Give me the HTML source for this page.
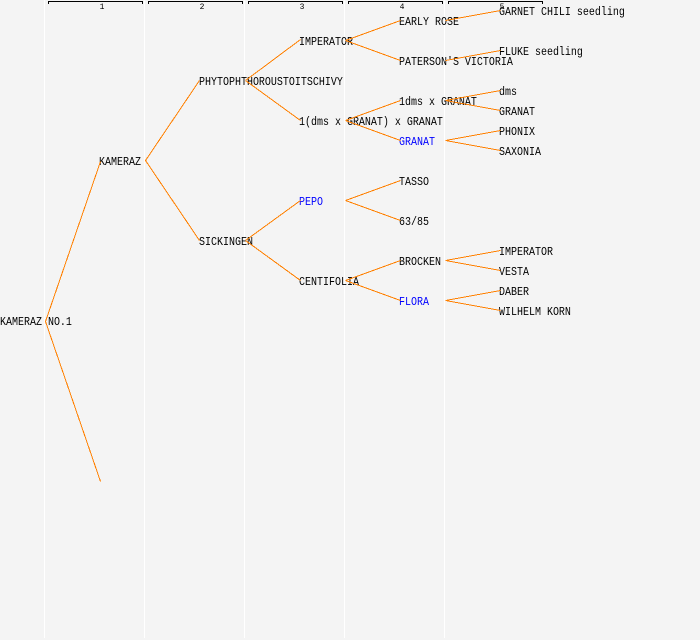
<!DOCTYPE html>
<html><head><meta charset="utf-8"><style>
html,body{margin:0;padding:0;background:#f4f4f4;width:700px;height:640px;overflow:hidden}
svg{display:block}
text{font-family:"Liberation Mono","DejaVu Sans Mono",monospace;font-size:10px;fill:#000;white-space:pre}
.b{fill:#00f}
.n{font-size:8px;text-anchor:middle}
.o line{stroke:#ff8000;stroke-width:1;shape-rendering:crispEdges}
.w line{stroke:#fff;stroke-width:1;shape-rendering:crispEdges}
.k path{stroke:#000;stroke-width:1;fill:none;shape-rendering:crispEdges}
</style></head><body>
<svg width="700" height="640" viewBox="0 0 700 640" xmlns="http://www.w3.org/2000/svg">
<rect width="700" height="640" fill="#f4f4f4"/>
<g class="w">
<line x1="44.5" y1="0" x2="44.5" y2="638"/><line x1="144.5" y1="0" x2="144.5" y2="638"/><line x1="244.5" y1="0" x2="244.5" y2="638"/><line x1="344.5" y1="0" x2="344.5" y2="638"/><line x1="444.5" y1="0" x2="444.5" y2="638"/>
</g>
<g class="k">
<path d="M48.5 4V1.5H142.5V4"/><path d="M148.5 4V1.5H242.5V4"/><path d="M248.5 4V1.5H342.5V4"/><path d="M348.5 4V1.5H442.5V4"/><path d="M448.5 4V1.5H542.5V4"/>
</g>
<text class="n" x="102" y="9">1</text><text class="n" x="202" y="9">2</text><text class="n" x="302" y="9">3</text><text class="n" x="402" y="9">4</text><text class="n" x="502" y="9">5</text>
<g transform="translate(0 -1)">
<text transform="translate(0 326) scale(1 1.2)">KAMERAZ NO.1</text>
<text transform="translate(99 166) scale(1 1.2)">KAMERAZ</text>
<text transform="translate(199 86) scale(1 1.2)">PHYTOPHTHOROUSTOITSCHIVY</text>
<text transform="translate(199 246) scale(1 1.2)">SICKINGEN</text>
<text transform="translate(299 46) scale(1 1.2)">IMPERATOR</text>
<text transform="translate(299 126) scale(1 1.2)">1(dms x GRANAT) x GRANAT</text>
<text transform="translate(299 206) scale(1 1.2)" class="b">PEPO</text>
<text transform="translate(299 286) scale(1 1.2)">CENTIFOLIA</text>
<text transform="translate(399 26) scale(1 1.2)">EARLY ROSE</text>
<text transform="translate(399 66) scale(1 1.2)">PATERSON'S VICTORIA</text>
<text transform="translate(399 106) scale(1 1.2)">1dms x GRANAT</text>
<text transform="translate(399 146) scale(1 1.2)" class="b">GRANAT</text>
<text transform="translate(399 186) scale(1 1.2)">TASSO</text>
<text transform="translate(399 226) scale(1 1.2)">63/85</text>
<text transform="translate(399 266) scale(1 1.2)">BROCKEN</text>
<text transform="translate(399 306) scale(1 1.2)" class="b">FLORA</text>
<text transform="translate(499 16) scale(1 1.2)">GARNET CHILI seedling</text>
<text transform="translate(499 56) scale(1 1.2)">FLUKE seedling</text>
<text transform="translate(499 96) scale(1 1.2)">dms</text>
<text transform="translate(499 116) scale(1 1.2)">GRANAT</text>
<text transform="translate(499 136) scale(1 1.2)">PHONIX</text>
<text transform="translate(499 156) scale(1 1.2)">SAXONIA</text>
<text transform="translate(499 256) scale(1 1.2)">IMPERATOR</text>
<text transform="translate(499 276) scale(1 1.2)">VESTA</text>
<text transform="translate(499 296) scale(1 1.2)">DABER</text>
<text transform="translate(499 316) scale(1 1.2)">WILHELM KORN</text>
</g>
<g class="o">
<line x1="45.5" y1="321.5" x2="100.5" y2="161.5"/><line x1="45.5" y1="321.5" x2="100.5" y2="481.5"/>
<line x1="145.5" y1="160.5" x2="199.5" y2="80.5"/><line x1="145.5" y1="160.5" x2="199.5" y2="240.5"/>
<line x1="245.5" y1="80.5" x2="300.5" y2="39.5"/><line x1="245.5" y1="80.5" x2="300.5" y2="120.5"/>
<line x1="245.5" y1="240.5" x2="300.5" y2="200.5"/><line x1="245.5" y1="240.5" x2="300.5" y2="280.5"/>
<line x1="345.5" y1="40.5" x2="400.5" y2="20.5"/><line x1="345.5" y1="40.5" x2="400.5" y2="60.5"/>
<line x1="345.5" y1="120.5" x2="400.5" y2="100.5"/><line x1="345.5" y1="120.5" x2="400.5" y2="140.5"/>
<line x1="345.5" y1="200.5" x2="400.5" y2="180.5"/><line x1="345.5" y1="200.5" x2="400.5" y2="220.5"/>
<line x1="345.5" y1="280.5" x2="400.5" y2="260.5"/><line x1="345.5" y1="280.5" x2="400.5" y2="300.5"/>
<line x1="445.5" y1="20.5" x2="500.5" y2="10.5"/>
<line x1="445.5" y1="60.5" x2="500.5" y2="50.5"/>
<line x1="445.5" y1="100.5" x2="500.5" y2="90.5"/><line x1="445.5" y1="100.5" x2="500.5" y2="110.5"/>
<line x1="445.5" y1="140.5" x2="500.5" y2="130.5"/><line x1="445.5" y1="140.5" x2="500.5" y2="150.5"/>
<line x1="445.5" y1="260.5" x2="500.5" y2="250.5"/><line x1="445.5" y1="260.5" x2="500.5" y2="270.5"/>
<line x1="445.5" y1="300.5" x2="500.5" y2="290.5"/><line x1="445.5" y1="300.5" x2="500.5" y2="310.5"/>
</g>
</svg>
</body></html>
